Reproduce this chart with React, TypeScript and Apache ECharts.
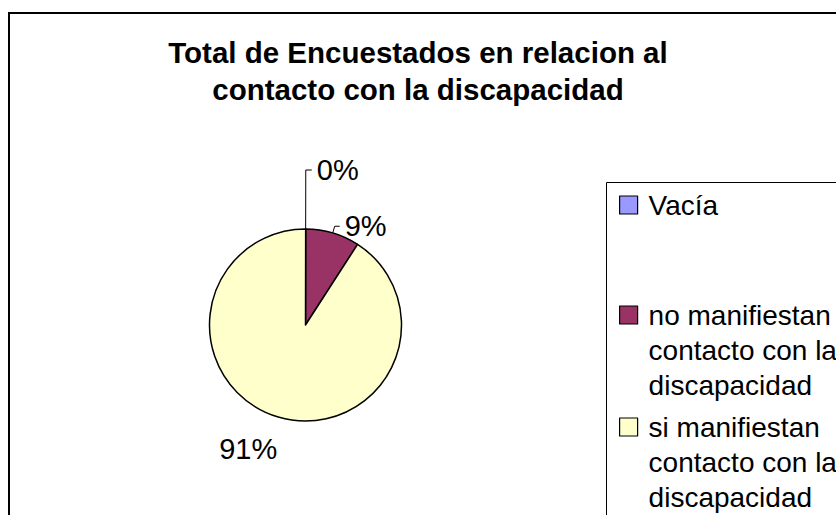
import React, { useEffect, useRef } from "react";
import * as echarts from "echarts";

// ---- data ----
const titleLines = ["Total de Encuestados en relacion al", "contacto con la discapacidad"];
const categories = [
  "Vacía",
  "no manifiestan contacto con la discapacidad",
  "si manifiestan contacto con la discapacidad",
];
const legendLines = [
  ["Vacía"],
  ["no manifiestan", "contacto con la", "discapacidad"],
  ["si manifiestan", "contacto con la", "discapacidad"],
];
const values = [0, 9.1, 90.9];
const colors = ["#9999FF", "#993366", "#FFFFCC"];

// ---- layout / style ----
const FONT = "'Liberation Sans', Arial, Helvetica, sans-serif";
const PIE_CENTER = [305.5, 325];
const PIE_RADIUS = 96;
const LEGEND_TOPS = [187.5, 227.5, 339.5];
const LABEL_LINES = [
  { length: 59, length2: 6, show: true },
  { length: 7, length2: 5, show: true },
  { length: 33.8, length2: -13.6, show: false },
];

export default function App() {
  const ref = useRef<HTMLDivElement>(null);

  useEffect(() => {
    if (!ref.current) return;
    const chart = echarts.init(ref.current, undefined, { renderer: "svg" });

    const option: any = {
      animation: false,
      backgroundColor: "#ffffff",
      title: {
        text: titleLines.join("\n"),
        left: "center",
        top: 34,
        padding: 0,
        textStyle: {
          fontFamily: FONT,
          fontSize: 29.5,
          fontWeight: "bold",
          color: "#000",
          lineHeight: 37,
        },
      },
      legend: legendLines.map((lines, i) => ({
        data: [categories[i]],
        orient: "vertical",
        left: 619,
        top: LEGEND_TOPS[i],
        padding: 0,
        itemWidth: 18,
        itemHeight: 18,
        icon: "rect",
        selectedMode: false,
        itemStyle: { borderColor: "#000", borderWidth: 1.2 },
        formatter: () => (i === 0 ? "" : "\n\n") + lines.join("\n"),
        textStyle: {
          fontFamily: FONT,
          fontSize: 28,
          color: "#000",
          lineHeight: 35,
          padding: [0, 0, 0, 6],
        },
      })),
      graphic: [
        {
          type: "rect",
          silent: true,
          shape: { x: 9, y: 13, width: 1000, height: 1000 },
          style: { fill: "none", stroke: "#000", lineWidth: 2 },
        },
        {
          type: "rect",
          silent: true,
          shape: { x: 606.5, y: 182.5, width: 400, height: 400 },
          style: { fill: "none", stroke: "#000", lineWidth: 1 },
        },
      ],
      series: [
        {
          type: "pie",
          center: PIE_CENTER,
          radius: PIE_RADIUS,
          startAngle: 89.9,
          clockwise: true,
          avoidLabelOverlap: false,
          emphasis: { disabled: true },
          itemStyle: { borderColor: "#000", borderWidth: 1.5 },
          label: {
            show: true,
            position: "outside",
            formatter: (p: any) => Math.round(p.percent) + "%",
            fontFamily: FONT,
            fontSize: 29,
            color: "#000",
            distanceToLabelLine: 5,
          },
          labelLine: {
            show: true,
            lineStyle: { color: "#000", width: 1 },
          },
          data: categories.map((name, i) => ({
            name,
            value: values[i],
            itemStyle: { color: colors[i] },
            labelLine: {
              show: LABEL_LINES[i].show,
              length: LABEL_LINES[i].length,
              length2: LABEL_LINES[i].length2,
              lineStyle: { color: "#000", width: 1 },
            },
          })),
        },
      ],
    };

    chart.setOption(option);
    return () => chart.dispose();
  }, []);

  return (
    <div
      ref={ref}
      style={{ position: "fixed", left: 0, top: 0, width: 836, height: 515, background: "#fff" }}
    />
  );
}
